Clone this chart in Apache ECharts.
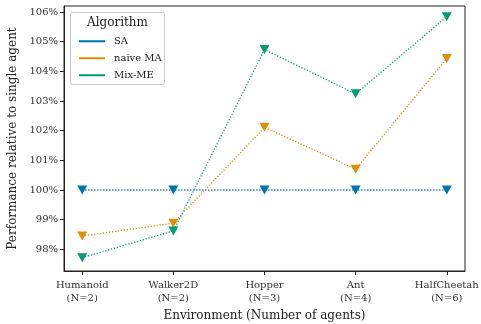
<!DOCTYPE html>
<html><head><meta charset="utf-8">
<script src="https://cdn.jsdelivr.net/npm/echarts@6/dist/echarts.min.js"></script>
<style>html,body{margin:0;padding:0;background:#fff}#c{width:481px;height:324px}</style>
</head><body><div id="c"></div>
<script>
const categories = ['Humanoid\n(N=2)', 'Walker2D\n(N=2)', 'Hopper\n(N=3)', 'Ant\n(N=4)', 'HalfCheetah\n(N=6)'];
const seriesNames = ['SA', 'naive MA', 'Mix-ME'];
const saValues = [100, 100, 100, 100, 100];
const naiveMAValues = [98.45, 98.88, 102.11, 100.70, 104.43];
const mixMEValues = [97.72, 98.62, 104.73, 103.24, 105.84];
const yTicks = [98, 99, 100, 101, 102, 103, 104, 105, 106];
const colors = ['#0173b2', '#de8f05', '#029e73'];
const FONT = 'DejaVu Serif';

const chart = echarts.init(document.getElementById('c'), null, {renderer: 'canvas'});
const allValues = [saValues, naiveMAValues, mixMEValues];
const series = allValues.map((vals, si) => ({
  name: seriesNames[si],
  type: 'line',
  data: vals.map((v, i) => [i, v]),
  symbol: 'triangle',
  symbolRotate: 180,
  symbolSize: [10, 9],
  itemStyle: {color: colors[si]},
  lineStyle: {color: colors[si], type: [1.2, 1.8], width: 1.3},
  emphasis: {disabled: true},
  animation: false,
  z: 2 + si
}));

chart.setOption({
  animation: false,
  textStyle: {fontFamily: FONT},
  grid: {left: 64, right: 16, top: 6, bottom: 53, containLabel: false, outerBoundsMode: 'none',
    show: true, borderColor: '#222', borderWidth: 1},
  xAxis: {
    type: 'value', min: -0.2, max: 4.2,
    splitLine: {show: false},
    axisLine: {onZero: false, lineStyle: {color: '#222', width: 1}},
    axisTick: {show: true, length: 4, lineStyle: {color: '#222'}, customValues: [0, 1, 2, 3, 4]},
    axisLabel: {customValues: [0, 1, 2, 3, 4], formatter: v => categories[Math.round(v)],
      fontFamily: FONT, fontSize: 10, color: '#333', lineHeight: 13, margin: 8},
    name: 'Environment (Number of agents)', nameLocation: 'middle', nameGap: 39,
    nameTextStyle: {fontFamily: FONT, fontSize: 12, color: '#222'}
  },
  yAxis: {
    type: 'value', min: 97.27, max: 106.2,
    splitLine: {show: false},
    axisLine: {show: true, onZero: false, lineStyle: {color: '#222', width: 1}},
    axisTick: {show: true, length: 4, lineStyle: {color: '#222'}, customValues: yTicks},
    axisLabel: {customValues: yTicks, formatter: v => Math.round(v) + '%',
      fontFamily: FONT, fontSize: 10, color: '#333', margin: 6},
    name: 'Performance relative to single agent', nameLocation: 'middle', nameGap: 41,
    nameTextStyle: {fontFamily: FONT, fontSize: 12, color: '#222'}
  },
  legend: {
    orient: 'vertical', left: 74, top: 30,
    icon: 'rect', itemWidth: 26, itemHeight: 2, itemGap: 4.5,
    data: seriesNames, z: 20,
    textStyle: {fontFamily: FONT, fontSize: 10, color: '#222', lineHeight: 12.5, padding: [0, 0, 0, 4]}
  },
  graphic: [
    {type: 'rect', left: 70, top: 12, z: 10, shape: {width: 94, height: 72, r: 2},
      style: {fill: 'rgba(255,255,255,0.85)', stroke: '#ccc', lineWidth: 1}},
    {type: 'text', left: 87, top: 17, z: 11, style: {text: 'Algorithm', font: '12px "DejaVu Serif"', fill: '#222'}}
  ],
  series: series
});
</script></body></html>
